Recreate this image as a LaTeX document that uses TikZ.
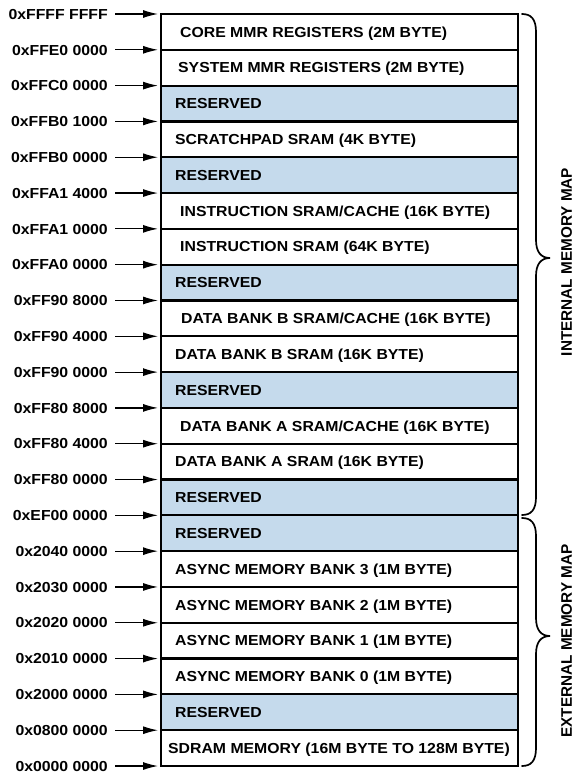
\documentclass[tikz,border=0pt]{standalone}
\usepackage{fontspec}
\newfontfamily\lblfont{Liberation Sans Bold}[FakeStretch=1.09]
\newfontfamily\rotfont{Liberation Sans Bold}
\usetikzlibrary{arrows.meta}
\definecolor{resblue}{RGB}{197,218,236}
\begin{document}
\begin{tikzpicture}[x=1pt,y=-1pt,
  rowbox/.style={draw=black, line width=2.2pt, minimum width=357pt, minimum height=35.81pt, inner sep=0pt},
  rowtext/.style={anchor=west, inner sep=0pt, text height=10.4pt, text depth=0pt, font=\lblfont\fontsize{14.5}{16}\selectfont},
  lbl/.style={anchor=east, inner sep=0pt, text height=10.4pt, text depth=0pt, font=\lblfont\fontsize{14.5}{16}\selectfont},
  arr/.style={line width=1.2pt, -{Latex[length=15pt,width=8pt]}, shorten <=7pt},
  brace/.style={line width=1.7pt, line cap=round},
  maptext/.style={rotate=90, inner sep=0pt, font=\rotfont\fontsize{15.3}{17}\selectfont}]
\useasboundingbox (0,0) rectangle (574,775);
\fill[white] (0,0) rectangle (574,775);
% rows
\foreach \i/\t/\x/\f in {
  0/{CORE MMR REGISTERS (2M BYTE)}/180/white,
  1/{SYSTEM MMR REGISTERS (2M BYTE)}/178/white,
  2/{RESERVED}/175/resblue,
  3/{SCRATCHPAD SRAM (4K BYTE)}/175/white,
  4/{RESERVED}/175/resblue,
  5/{INSTRUCTION SRAM/CACHE (16K BYTE)}/180/white,
  6/{INSTRUCTION SRAM (64K BYTE)}/180/white,
  7/{RESERVED}/175/resblue,
  8/{DATA BANK B SRAM/CACHE (16K BYTE)}/181/white,
  9/{DATA BANK B SRAM (16K BYTE)}/175/white,
  10/{RESERVED}/175/resblue,
  11/{DATA BANK A SRAM/CACHE (16K BYTE)}/180/white,
  12/{DATA BANK A SRAM (16K BYTE)}/175/white,
  13/{RESERVED}/175/resblue,
  14/{RESERVED}/175/resblue,
  15/{ASYNC MEMORY BANK 3 (1M BYTE)}/175/white,
  16/{ASYNC MEMORY BANK 2 (1M BYTE)}/175/white,
  17/{ASYNC MEMORY BANK 1 (1M BYTE)}/175/white,
  18/{ASYNC MEMORY BANK 0 (1M BYTE)}/175/white,
  19/{RESERVED}/175/resblue,
  20/{SDRAM MEMORY (16M BYTE TO 128M BYTE)}/168/white}{
  \node[rowbox, fill=\f] (r\i) at (339.5, {14+(\i+0.5)*35.81}) {};
  \node[rowtext] (t\i) at (\x, {14+(\i+0.5)*35.81}) {\t};
}
% address labels and arrows
\foreach \i/\t in {
  0/0xFFFF FFFF, 1/0xFFE0 0000, 2/0xFFC0 0000, 3/0xFFB0 1000,
  4/0xFFB0 0000, 5/0xFFA1 4000, 6/0xFFA1 0000, 7/0xFFA0 0000,
  8/0xFF90 8000, 9/0xFF90 4000, 10/0xFF90 0000, 11/0xFF80 8000,
  12/0xFF80 4000, 13/0xFF80 0000, 14/0xEF00 0000, 15/0x2040 0000,
  16/0x2030 0000, 17/0x2020 0000, 18/0x2010 0000, 19/0x2000 0000,
  20/0x0800 0000, 21/0x0000 0000}{
  \node[lbl] (l\i) at (108, {14+\i*35.81}) {\t};
  \coordinate (b\i) at (158, {14+\i*35.81});
  \draw[arr] (l\i) -- (b\i);
}
% braces
\draw[brace] (522,14) .. controls (531,14) and (536,19) .. (536,32)
  -- (536,240) .. controls (536,252) and (541,258) .. (550,258)
  .. controls (541,258) and (536,264) .. (536,276)
  -- (536,497) .. controls (536,510) and (531,515) .. (522,515);
\draw[brace] (522,518) .. controls (531,518) and (536,523) .. (536,536)
  -- (536,618) .. controls (536,630) and (541,636) .. (550,636)
  .. controls (541,636) and (536,642) .. (536,654)
  -- (536,748) .. controls (536,761) and (531,766) .. (522,766);
\node[maptext] (imap) at (566.5,262) {INTERNAL MEMORY MAP};
\node[maptext] (emap) at (566.5,641) {EXTERNAL MEMORY MAP};
\end{tikzpicture}
\end{document}
